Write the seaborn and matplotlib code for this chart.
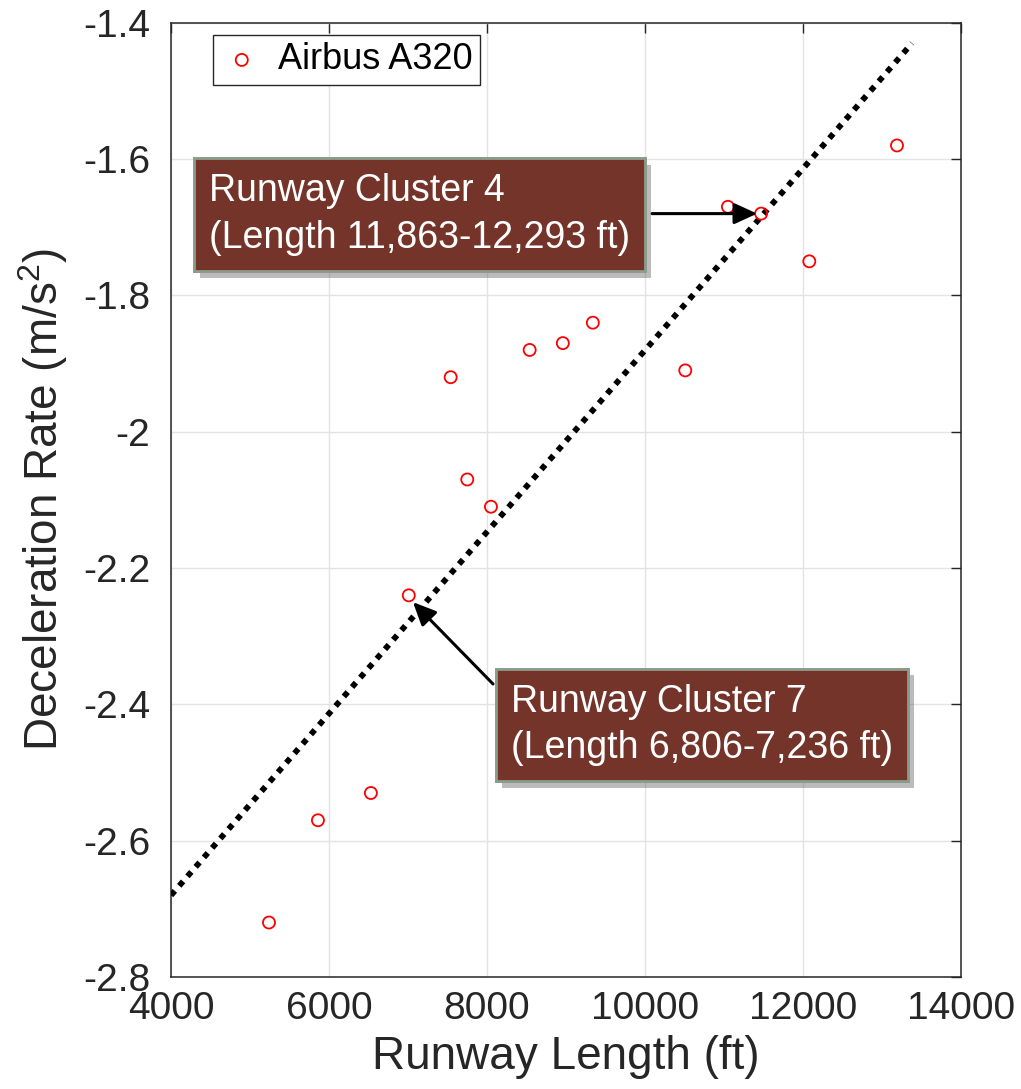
import matplotlib
matplotlib.use("Agg")
import matplotlib.pyplot as plt
import matplotlib.patheffects as pe
import seaborn as sns

# ── Data ─────────────────────────────────────────────────────────────────────
runway_length = [5240, 5860, 6530, 7010, 7540, 7750, 8050, 8540, 8960,
                 9340, 10510, 11050, 11470, 12080, 13190]
decel_rate = [-2.72, -2.57, -2.53, -2.24, -1.92, -2.07, -2.11, -1.88, -1.87,
              -1.84, -1.91, -1.67, -1.68, -1.75, -1.58]
fit_x = [4000, 13380]
fit_y = [-2.68, -1.43]
x_ticks = [4000, 6000, 8000, 10000, 12000, 14000]
y_ticks = [-2.8, -2.6, -2.4, -2.2, -2.0, -1.8, -1.6, -1.4]

# ── Style ────────────────────────────────────────────────────────────────────
sns.set_style("whitegrid")
plt.rcParams.update({
    "font.family": ["Liberation Sans", "DejaVu Sans"],
    "mathtext.fontset": "custom",
    "mathtext.rm": "Liberation Sans",
    "mathtext.it": "Liberation Sans:italic",
    "axes.unicode_minus": False,
})
TXT = "#262626"

fig = plt.figure(figsize=(10.21, 10.89), dpi=100)
ax = fig.add_axes([0.1675, 0.1028, 0.7737, 0.8763])

sns.lineplot(x=fit_x, y=fit_y, ax=ax, color="black", linewidth=4.2,
             linestyle=(0, (1, 1.15)), dash_capstyle="butt", zorder=3)
sns.scatterplot(x=runway_length, y=decel_rate, ax=ax, marker="o", s=75,
                facecolors="none", edgecolor="red", linewidth=1.3,
                label="Airbus A320", zorder=4)

ax.set_xlim(4000, 14000)
ax.set_ylim(-2.8, -1.4)
ax.set_xticks(x_ticks)
ax.set_yticks(y_ticks)
ax.set_yticklabels([f"{v:g}" for v in y_ticks])
ax.tick_params(labelsize=28, colors=TXT, direction="in", length=7, width=1,
               top=True, right=True)
ax.tick_params(axis="y", pad=15)
ax.tick_params(axis="x", pad=10)
ax.grid(True, color="#e3e3e3", linewidth=1)
for s in ax.spines.values():
    s.set_color(TXT)
    s.set_linewidth(1.1)
    s.set_visible(True)

ax.set_xlabel("Runway Length (ft)", fontsize=33, color=TXT, labelpad=6)
ax.set_ylabel(r"Deceleration Rate (m/s$^2$)", fontsize=33, color=TXT, labelpad=9)

leg = ax.legend(loc="upper left", bbox_to_anchor=(0.053, 0.987), borderaxespad=0,
                fontsize=26, frameon=True, fancybox=False, framealpha=1,
                edgecolor=TXT, handlelength=1.2, handletextpad=0.4,
                borderpad=0.2)
leg.get_frame().set_linewidth(1)
for t in leg.get_texts():
    t.set_color("black")

# ── Annotations ──────────────────────────────────────────────────────────────
box_style = dict(boxstyle="square,pad=0.4", fc="#75342A", ec="#8C9C8A", lw=2)
shadow = [pe.withSimplePatchShadow(offset=(4, -5), shadow_rgbFace="#555555",
                                   alpha=0.4), pe.Normal()]

arrow = dict(arrowstyle="-|>,head_length=0.7,head_width=0.32", color="black",
             lw=2.2, shrinkA=0, shrinkB=0, mutation_scale=20)

ax.annotate("", xy=(11420, -1.68), xytext=(10089, -1.68), arrowprops=arrow, zorder=5)
ax.annotate("", xy=(7063, -2.25), xytext=(8076, -2.37), arrowprops=arrow, zorder=5)

t1 = ax.text(7150, -1.681, "Runway Cluster 4\n(Length 11,863-12,293 ft)",
             fontsize=27, color="white", ha="center", va="center",
             multialignment="left", linespacing=1.38, bbox=box_style, zorder=6)
t2 = ax.text(10722, -2.430, "Runway Cluster 7\n(Length 6,806-7,236 ft)",
             fontsize=27, color="white", ha="center", va="center",
             multialignment="left", linespacing=1.38, bbox=box_style, zorder=6)
for t in (t1, t2):
    t.get_bbox_patch().set_path_effects(shadow)

fig.savefig("out.png", dpi=100)
